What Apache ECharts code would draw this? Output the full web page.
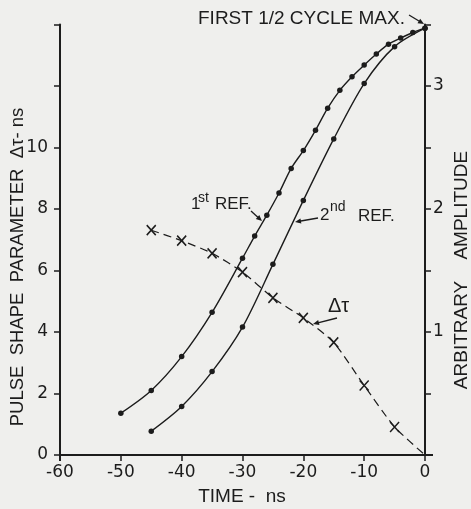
<!DOCTYPE html>
<html>
<head>
<meta charset="utf-8">
<script src="https://cdn.jsdelivr.net/npm/echarts@6/dist/echarts.min.js"></script>
<style>
html,body{margin:0;padding:0;background:#efefed;}
#c{width:471px;height:509px;}
</style>
</head>
<body>
<div id="c"></div>
<script>
// ---- data ----
const ref1Time = [-50, -45, -40, -35, -30, -28, -26, -24, -22, -20, -18, -16, -14, -12, -10, -8, -6, -4, -2, 0];
const ref1Amp  = [0.34, 0.525, 0.80, 1.16, 1.60, 1.78, 1.95, 2.13, 2.33, 2.475, 2.64, 2.82, 2.965, 3.075, 3.17, 3.26, 3.34, 3.39, 3.435, 3.47];
const ref2Time = [-45, -40, -35, -30, -25, -20, -15, -10, -5, 0];
const ref2Amp  = [0.194, 0.395, 0.678, 1.04, 1.55, 2.07, 2.57, 3.02, 3.32, 3.47];
const dtTime   = [-45, -40, -35, -30, -25, -20, -15, -10, -5, 0];
const dtValue  = [7.31, 6.97, 6.56, 5.95, 5.11, 4.46, 3.66, 2.26, 0.91, 0];
const xTicks   = [-60, -50, -40, -30, -20, -10, 0];
const leftLabels  = [0, 2, 4, 6, 8, 10];
const rightLabels = [1, 2, 3];

const ink = '#1c1c1c';
const chart = echarts.init(document.getElementById('c'), null, {renderer:'canvas'});

function pairs(xs, ys){ return xs.map((x,i)=>[x, ys[i]]); }
const dtData = pairs(dtTime, dtValue).map(p => (p[0]===0 && p[1]===0) ? {value:p, symbol:'none'} : p);

function arrow(x1,y1,x2,y2){
  const a = Math.atan2(y2-y1, x2-x1), L=6, W=2.6;
  const c=Math.cos(a), s=Math.sin(a);
  return [
    {type:'line', shape:{x1:x1,y1:y1,x2:x2-c*3,y2:y2-s*3}, style:{stroke:ink, lineWidth:1.3}},
    {type:'polygon', shape:{points:[[x2,y2],[x2-L*c+W*s, y2-L*s-W*c],[x2-L*c-W*s, y2-L*s+W*c]]}, style:{fill:ink}}
  ];
}
function txt(t, x, y, size, opts){
  opts = opts || {};
  return {type:'text', x:x, y:y, rotation: opts.rot||0,
    style:{text:t, x:0, y:0, fill:ink, font: size+'px "Liberation Sans", Arial, sans-serif',
      align: opts.align||'left', verticalAlign:'middle'}};
}
function seg(x1,y1,x2,y2,w){ return {type:'line', shape:{x1:x1,y1:y1,x2:x2,y2:y2}, style:{stroke:ink, lineWidth:w}}; }

const fontTick = '"DejaVu Sans", sans-serif';

const option = {
  backgroundColor:'#efefed',
  animation:false,
  grid:{left:60, right:46, top:24.5, bottom:54, containLabel:false},
  xAxis:{
    type:'value', min:-60, max:0, interval:10,
    axisLine:{show:true, onZero:false, lineStyle:{color:ink, width:2}},
    axisTick:{show:true, inside:false, length:6, lineStyle:{color:ink, width:1.5}},
    axisLabel:{color:ink, fontSize:17, fontFamily:fontTick, margin:9,
      formatter:v=> xTicks.indexOf(v)>=0 ? String(v) : ''},
    splitLine:{show:false}
  },
  yAxis:[
    {type:'value', position:'left', min:0, max:14, interval:2,
     axisLine:{show:true, onZero:false, lineStyle:{color:ink, width:2}},
     axisTick:{show:true, inside:false, length:6, lineStyle:{color:ink, width:1.5}},
     axisLabel:{color:ink, fontSize:17, fontFamily:fontTick, margin:12,
       formatter:v=> leftLabels.indexOf(v)>=0 ? String(v) : ''},
     splitLine:{show:false}},
    {type:'value', position:'right', min:0, max:3.5, interval:0.5,
     axisLine:{show:true, onZero:false, lineStyle:{color:ink, width:2}},
     axisTick:{show:true, inside:false, length:6, lineStyle:{color:ink, width:1.5}},
     axisLabel:{color:ink, fontSize:17, fontFamily:fontTick, margin:8,
       formatter:v=> rightLabels.indexOf(v)>=0 ? String(v) : ''},
     splitLine:{show:false}}
  ],
  series:[
    {name:'1st REF.', type:'line', yAxisIndex:1, data:pairs(ref1Time, ref1Amp),
     smooth:0.3, symbol:'circle', symbolSize:5.5, showAllSymbol:true,
     lineStyle:{color:ink, width:1.4}, itemStyle:{color:ink}},
    {name:'2nd REF.', type:'line', yAxisIndex:1, data:pairs(ref2Time, ref2Amp),
     smooth:0.3, symbol:'circle', symbolSize:5.5, showAllSymbol:true,
     lineStyle:{color:ink, width:1.4}, itemStyle:{color:ink}},
    {name:'Δτ', type:'line', yAxisIndex:0, data:dtData,
     smooth:0.2, symbol:'path://M0,0L10,10M10,0L0,10', symbolSize:[9,10], showAllSymbol:true,
     lineStyle:{color:ink, width:1.2, type:[8,5]},
     itemStyle:{color:'rgba(0,0,0,0)', borderColor:ink, borderWidth:1.6}}
  ],
  graphic:[].concat(
    [seg(424,455,433,455,2), seg(60,455,60,461,2)],
    [txt('FIRST 1/2 CYCLE MAX.', 198, 19, 19)],
    arrow(409,15,424,24),
    [txt('1', 191, 204, 17), txt('st', 198, 198, 14), txt('REF.', 215, 204, 17)],
    arrow(251,211,262,221),
    [txt('2', 320, 215, 17), txt('nd', 330, 207, 14), txt('REF.', 358, 216, 17)],
    arrow(318,218,295,222),
    [txt('Δτ', 328, 306, 20)],
    arrow(337,318,313,324),
    [txt('PULSE  SHAPE  PARAMETER  Δτ- ns', 18, 267, 18.5, {align:'center', rot:Math.PI/2})],
    [txt('ARBITRARY    AMPLITUDE', 462, 270, 19, {align:'center', rot:Math.PI/2})],
    [txt('TIME -  ns', 242, 497, 19, {align:'center'})]
  )
};
chart.setOption(option);
</script>
</body>
</html>
